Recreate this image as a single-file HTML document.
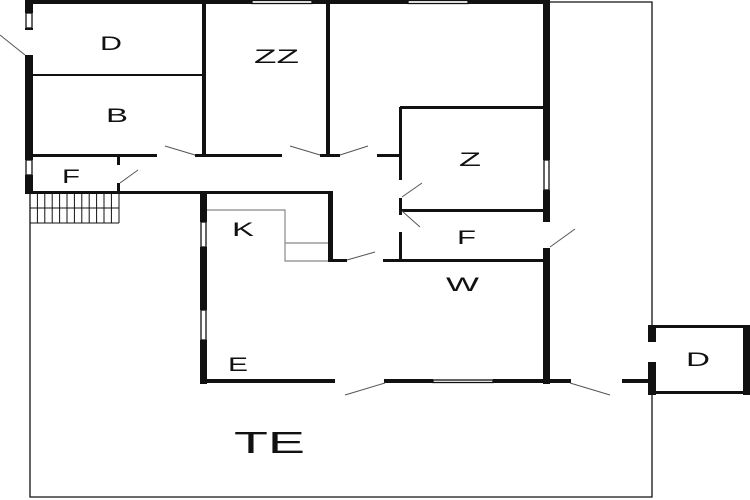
<!DOCTYPE html>
<html><head><meta charset="utf-8"><style>
html,body{margin:0;padding:0;background:#fff;width:750px;height:500px;overflow:hidden}
svg text{font-family:"Liberation Sans",sans-serif;fill:#111}
</style></head><body>
<svg width="750" height="500" viewBox="0 0 750 500" xmlns="http://www.w3.org/2000/svg">
<g fill="#111">
<rect x="25" y="0" width="227" height="4"/>
<rect x="312" y="0" width="96" height="4"/>
<rect x="468" y="0" width="82" height="4"/>
<rect x="25" y="0" width="8" height="13"/>
<rect x="25" y="28" width="8" height="2"/>
<rect x="25" y="55" width="8" height="105"/>
<rect x="25" y="175" width="8" height="18"/>
<rect x="202" y="0" width="4" height="155"/>
<rect x="326" y="0" width="4" height="155"/>
<rect x="543" y="0" width="7" height="160"/>
<rect x="543" y="190" width="7" height="32"/>
<rect x="543" y="248" width="7" height="136"/>
<rect x="33" y="74" width="171" height="2"/>
<rect x="33" y="154" width="124" height="3"/>
<rect x="195" y="154" width="87" height="3"/>
<rect x="320" y="154" width="20" height="3"/>
<rect x="377" y="154" width="25" height="3"/>
<rect x="117" y="155" width="3" height="10"/>
<rect x="117" y="183" width="3" height="10"/>
<rect x="25" y="191" width="308" height="3"/>
<rect x="200" y="191" width="7" height="31"/>
<rect x="200" y="247" width="7" height="63"/>
<rect x="200" y="340" width="7" height="44"/>
<rect x="328" y="191" width="5" height="70"/>
<rect x="328" y="259" width="19" height="3"/>
<rect x="383" y="259" width="160" height="3"/>
<rect x="399" y="107" width="3" height="73"/>
<rect x="399" y="198" width="3" height="17"/>
<rect x="399" y="232" width="3" height="29"/>
<rect x="400" y="106" width="143" height="3"/>
<rect x="400" y="209" width="143" height="3"/>
<rect x="200" y="379" width="135" height="4"/>
<rect x="384" y="379" width="49" height="4"/>
<rect x="493" y="379" width="78" height="4"/>
<rect x="622" y="379" width="28" height="4"/>
<rect x="648" y="325" width="8" height="17"/>
<rect x="648" y="362" width="8" height="33"/>
<rect x="648" y="325" width="102" height="3"/>
<rect x="648" y="391" width="102" height="3"/>
<rect x="743" y="325" width="7" height="70"/>
</g>
<g stroke="#111" fill="none" stroke-width="1.3">
<rect x="252" y="0.5" width="60" height="3"/>
<rect x="408" y="0.5" width="60" height="3"/>
<rect x="26" y="13" width="6" height="15"/>
<rect x="26" y="160" width="6" height="15"/>
<rect x="201" y="222" width="5" height="25"/>
<rect x="201" y="310" width="5" height="30"/>
<rect x="544" y="160" width="5" height="30"/>
<rect x="433" y="380" width="60" height="2.5"/>
<polyline points="30,194 30,497 652,497 652,394"/>
<polyline points="550,2 652,2 652,325"/>
</g>
<g stroke="#111" stroke-width="1" fill="none">
<line x1="30" y1="223" x2="119" y2="223"/>
<line x1="30" y1="208" x2="119" y2="208"/>
<line x1="30" y1="194" x2="30" y2="223"/><line x1="37.4" y1="194" x2="37.4" y2="223"/><line x1="44.8" y1="194" x2="44.8" y2="223"/><line x1="52.2" y1="194" x2="52.2" y2="223"/><line x1="59.6" y1="194" x2="59.6" y2="223"/><line x1="67" y1="194" x2="67" y2="223"/><line x1="74.4" y1="194" x2="74.4" y2="223"/><line x1="81.8" y1="194" x2="81.8" y2="223"/><line x1="89.2" y1="194" x2="89.2" y2="223"/><line x1="96.6" y1="194" x2="96.6" y2="223"/><line x1="104" y1="194" x2="104" y2="223"/><line x1="111.4" y1="194" x2="111.4" y2="223"/><line x1="119" y1="194" x2="119" y2="223"/>
</g>
<g stroke="#888" stroke-width="1.2" fill="none">
<polyline points="207,210 285,210 285,261 328,261"/>
<line x1="285" y1="243" x2="328" y2="243"/>
</g>
<g stroke="#555" stroke-width="1">
<line x1="0" y1="35" x2="25" y2="55"/>
<line x1="165" y1="146" x2="195" y2="155"/>
<line x1="290" y1="146" x2="320" y2="155"/>
<line x1="340" y1="155" x2="368" y2="146"/>
<line x1="120" y1="183" x2="138" y2="170"/>
<line x1="402" y1="197" x2="422" y2="183"/>
<line x1="402" y1="211" x2="420" y2="227"/>
<line x1="550" y1="247" x2="575" y2="229"/>
<line x1="347" y1="260" x2="375" y2="252"/>
<line x1="345" y1="395" x2="385" y2="383"/>
<line x1="570" y1="383" x2="610" y2="395"/>
</g>
<g font-size="19" lengthAdjust="spacingAndGlyphs">
<text x="100" y="50" textLength="22" lengthAdjust="spacingAndGlyphs">D</text>
<text x="106" y="122" textLength="22" lengthAdjust="spacingAndGlyphs">B</text>
<text x="254" y="63" textLength="45" lengthAdjust="spacingAndGlyphs">ZZ</text>
<text x="62" y="183" textLength="18" lengthAdjust="spacingAndGlyphs">F</text>
<text x="232" y="236" textLength="22" lengthAdjust="spacingAndGlyphs">K</text>
<text x="459" y="166" textLength="22" lengthAdjust="spacingAndGlyphs">Z</text>
<text x="457" y="244" textLength="19" lengthAdjust="spacingAndGlyphs">F</text>
<text x="446" y="291" textLength="33" lengthAdjust="spacingAndGlyphs">W</text>
<text x="228" y="371" textLength="20" lengthAdjust="spacingAndGlyphs">E</text>
<text x="686" y="366" textLength="24" lengthAdjust="spacingAndGlyphs">D</text>
<text x="234" y="453" font-size="31" textLength="71" lengthAdjust="spacingAndGlyphs">TE</text>
</g>
</svg>
</body></html>
